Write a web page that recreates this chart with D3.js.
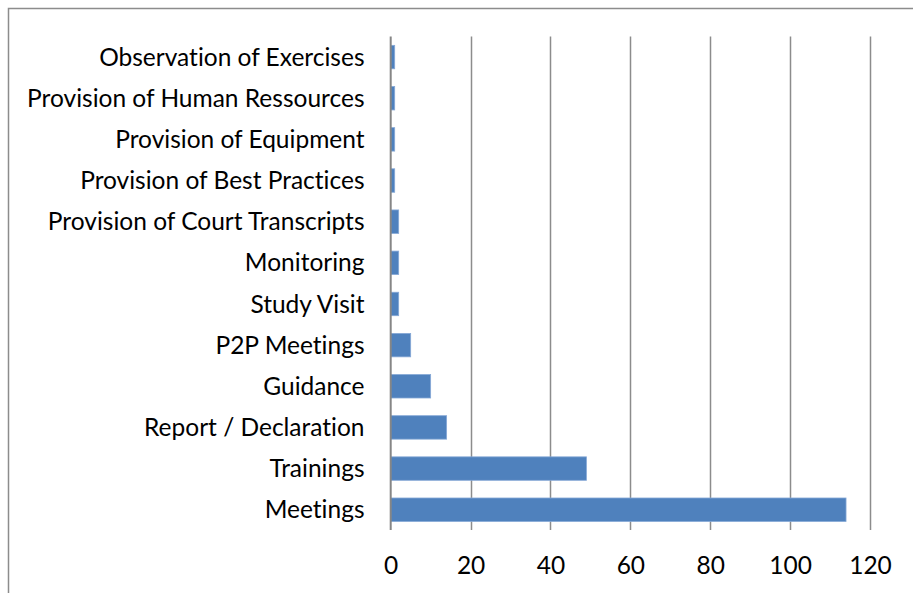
<!DOCTYPE html>
<html>
<head>
<meta charset="utf-8">
<script src="https://cdn.jsdelivr.net/npm/d3@7"></script>
<style>
  html, body { margin: 0; padding: 0; background: #fff; }
  svg { display: block; }
  text { font-family: "Lato", "Open Sans", sans-serif; fill: #000; font-variant-ligatures: none; font-feature-settings: "liga" 0, "clig" 0; }
</style>
</head>
<body>
<svg id="chart" width="913" height="593"></svg>
<script>
const categories = [
  "Observation of Exercises",
  "Provision of Human Ressources",
  "Provision of Equipment",
  "Provision of Best Practices",
  "Provision of Court Transcripts",
  "Monitoring",
  "Study Visit",
  "P2P Meetings",
  "Guidance",
  "Report / Declaration",
  "Trainings",
  "Meetings"
];
const values = [1, 1, 1, 1, 2, 2, 2, 5, 10, 14, 49, 114];
const tickValues = [0, 20, 40, 60, 80, 100, 120];

const svg = d3.select("#chart");
const fontSize = 24.5;

// chart border (frame cut by page edges on right/bottom)
svg.append("path")
  .attr("d", "M8.5,600 L8.5,8.5 L920,8.5")
  .attr("fill", "none")
  .attr("stroke", "#8c8c8c")
  .attr("stroke-width", 1.5);

const x = d3.scaleLinear().domain([0, 120]).range([390.7, 870]);
const y = d3.scaleBand().domain(categories).range([36.5, 530.3]).paddingInner(0.43).paddingOuter(0.215);

// gridlines
svg.append("g").selectAll("line")
  .data(tickValues.filter(v => v !== 0))
  .join("line")
  .attr("x1", d => Math.round(x(d)) + 0.5)
  .attr("x2", d => Math.round(x(d)) + 0.5)
  .attr("y1", 36.5)
  .attr("y2", 530)
  .attr("stroke", "#8c8c8c")
  .attr("stroke-width", 1.5);

// bars
svg.append("g").selectAll("rect")
  .data(categories.map((c, i) => ({ c, v: values[i] })))
  .join("rect")
  .attr("x", x(0))
  .attr("y", d => y(d.c))
  .attr("width", d => x(d.v) - x(0))
  .attr("height", y.bandwidth())
  .attr("fill", "#4f81bd")
  .attr("stroke", "#86a8d6")
  .attr("stroke-width", 0.8);

// zero axis line
svg.append("line")
  .attr("x1", x(0)).attr("x2", x(0))
  .attr("y1", 36.5).attr("y2", 530)
  .attr("stroke", "#868686")
  .attr("stroke-width", 2);

// category labels
const yAxis = d3.axisLeft(y).tickSize(0).tickPadding(0);
const gy = svg.append("g").attr("transform", "translate(364.5,0)").call(yAxis);
gy.select(".domain").remove();
gy.selectAll("text")
  .attr("font-family", "Lato, 'Open Sans', sans-serif")
  .attr("font-size", fontSize)
  .attr("fill", "#000")
  .attr("dy", "0.35em");

// value tick labels
const xAxis = d3.axisBottom(x).tickValues(tickValues).tickSize(0).tickPadding(0).tickFormat(d3.format("d"));
const gx = svg.append("g").attr("transform", "translate(0,565)").call(xAxis);
gx.select(".domain").remove();
gx.selectAll("text")
  .attr("font-family", "Lato, 'Open Sans', sans-serif")
  .attr("font-size", fontSize)
  .attr("fill", "#000")
  .attr("dy", "0.35em");
</script>
</body>
</html>
